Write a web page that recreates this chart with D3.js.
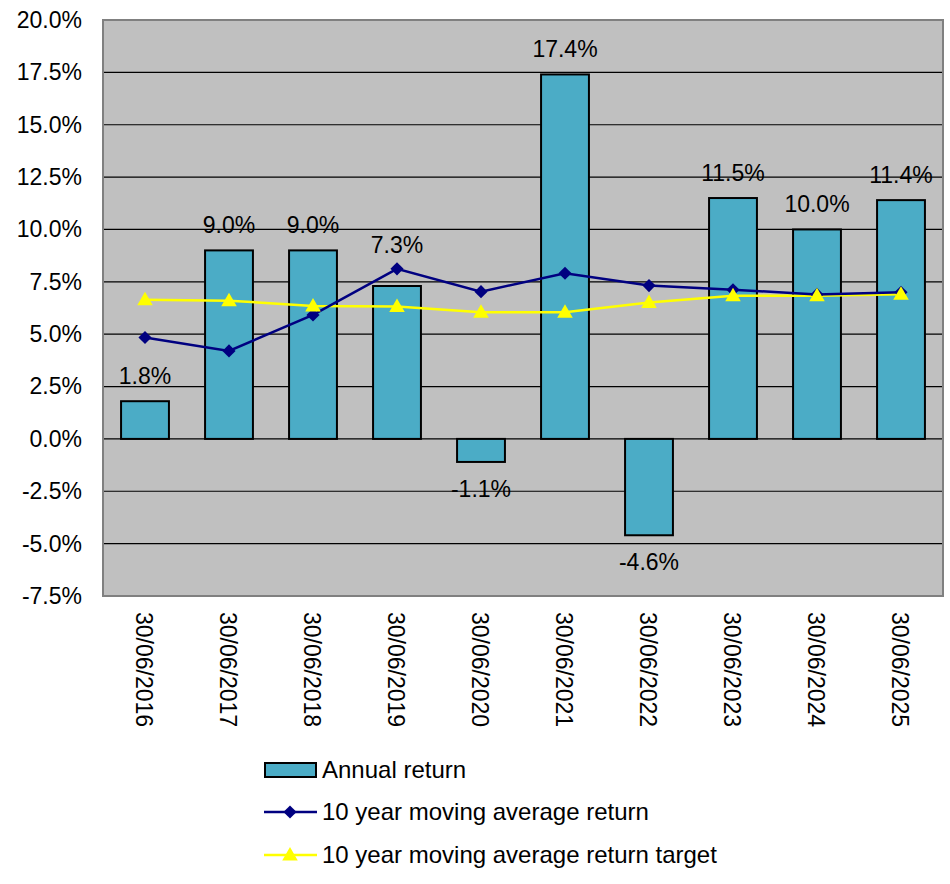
<!DOCTYPE html>
<html><head><meta charset="utf-8">
<script src="https://cdn.jsdelivr.net/npm/d3@7"></script>
<style>body{margin:0;background:#fff}svg{display:block}text{font-family:"Liberation Sans",Arial,sans-serif;fill:#000}</style>
</head><body><svg id="c" width="950" height="884"></svg>
<script>
const categories = ["30/06/2016","30/06/2017","30/06/2018","30/06/2019","30/06/2020","30/06/2021","30/06/2022","30/06/2023","30/06/2024","30/06/2025"];
const annualReturn = [1.8, 9.0, 9.0, 7.3, -1.1, 17.4, -4.6, 11.5, 10.0, 11.4];
const movingAvgReturn = [4.84, 4.2, 5.92, 8.12, 7.03, 7.91, 7.32, 7.12, 6.9, 7.0];
const movingAvgTarget = [6.64, 6.6, 6.35, 6.32, 6.05, 6.05, 6.51, 6.83, 6.84, 6.91];
const yTicks = [-7.5, -5, -2.5, 0, 2.5, 5, 7.5, 10, 12.5, 15, 17.5, 20];
const seriesNames = ["Annual return", "10 year moving average return", "10 year moving average return target"];

const svg = d3.select("#c");
const L = 103, R = 943, T = 20, B = 596;
const x = d3.scaleBand().domain(categories).range([L, R]).paddingInner(0.43).paddingOuter(0.215);
const xc = d => x(d) + x.bandwidth() / 2;
const y = d3.scaleLinear().domain([-7.5, 20]).range([B, T]);

svg.append("rect").attr("x", L).attr("y", T).attr("width", R - L).attr("height", B - T).attr("fill", "#c0c0c0");
svg.append("g").selectAll("line").data(yTicks.filter(t => t > -7.5 && t < 20)).join("line")
  .attr("x1", L).attr("x2", R).attr("y1", d => y(d)).attr("y2", d => y(d))
  .attr("stroke", "#000").attr("stroke-width", 1.2);

const yAxis = svg.append("g").attr("transform", `translate(${L},0)`)
  .call(d3.axisLeft(y).tickValues(yTicks).tickFormat(d => d.toFixed(1) + "%").tickSize(0).tickPadding(21));
yAxis.select(".domain").remove();
yAxis.selectAll("text").style("font-size", "23px").attr("font-family", "Liberation Sans, Arial, sans-serif").attr("fill", "#000");

// bars
svg.append("g").selectAll("rect").data(categories).join("rect")
  .attr("x", d => x(d)).attr("width", x.bandwidth())
  .attr("y", (d, i) => y(Math.max(0, annualReturn[i])))
  .attr("height", (d, i) => Math.abs(y(annualReturn[i]) - y(0)))
  .attr("fill", "#4bacc6").attr("stroke", "#000").attr("stroke-width", 2);

// bar labels (pushed above a line marker if they would collide with it)
function labelY(i) {
  const v = annualReturn[i];
  if (v < 0) return y(v) + 35;
  let base = y(v) - 17;
  [movingAvgReturn[i], movingAvgTarget[i]].forEach(m => {
    const my = y(m);
    if (my + 8 > base - 17 && my - 8 < base + 2) base = Math.min(base, my - 8 - 8);
  });
  return base;
}
svg.append("g").selectAll("text").data(categories).join("text")
  .attr("x", d => xc(d))
  .attr("y", (d, i) => labelY(i))
  .attr("text-anchor", "middle").style("font-size", "23px")
  .text((d, i) => annualReturn[i].toFixed(1) + "%");

const line = d3.line().x((d, i) => xc(categories[i])).y(d => y(d));
const diamond = d3.symbol().type(d3.symbolDiamond2).size(110);
const tri = d3.symbol().type(d3.symbolTriangle).size(105);

svg.append("path").datum(movingAvgTarget).attr("d", line).attr("fill", "none").attr("stroke", "#ffff00").attr("stroke-width", 2.5);
svg.append("path").datum(movingAvgReturn).attr("d", line).attr("fill", "none").attr("stroke", "#000080").attr("stroke-width", 2.5);
svg.append("g").selectAll("path").data(movingAvgReturn).join("path")
  .attr("transform", (d, i) => `translate(${xc(categories[i])},${y(d)})`).attr("d", diamond).attr("fill", "#000080");
svg.append("g").selectAll("path").data(movingAvgTarget).join("path")
  .attr("transform", (d, i) => `translate(${xc(categories[i])},${y(d) + 1})`).attr("d", tri).attr("fill", "#ffff00");

// plot border
svg.append("rect").attr("x", L).attr("y", T).attr("width", R - L).attr("height", B - T).attr("fill", "none").attr("stroke", "#808080").attr("stroke-width", 2);

// x labels
svg.append("g").selectAll("text").data(categories).join("text")
  .attr("transform", d => `translate(${xc(d) - 9},612) rotate(90)`)
  .attr("text-anchor", "start").style("font-size", "23px").text(d => d);

// legend
const lg = svg.append("g");
const ly = [770, 812, 855];
lg.append("rect").attr("x", 265).attr("y", 763).attr("width", 51).attr("height", 14).attr("fill", "#4bacc6").attr("stroke", "#000").attr("stroke-width", 2);
lg.append("line").attr("x1", 264).attr("x2", 317).attr("y1", ly[1]).attr("y2", ly[1]).attr("stroke", "#000080").attr("stroke-width", 2.5);
lg.append("path").attr("transform", `translate(290,${ly[1]})`).attr("d", diamond).attr("fill", "#000080");
lg.append("line").attr("x1", 264).attr("x2", 317).attr("y1", ly[2]).attr("y2", ly[2]).attr("stroke", "#ffff00").attr("stroke-width", 2.5);
lg.append("path").attr("transform", `translate(290,${ly[2] + 1})`).attr("d", tri).attr("fill", "#ffff00");
lg.selectAll("text").data(seriesNames).join("text")
  .attr("x", 322).attr("y", (d, i) => ly[i] + 8).style("font-size", "24px").text(d => d);
</script></body></html>
